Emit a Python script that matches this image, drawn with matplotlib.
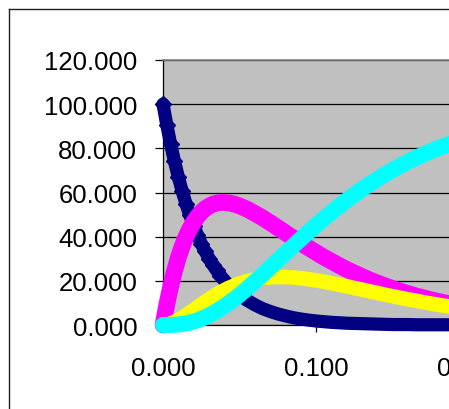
import matplotlib
matplotlib.use("Agg")
import matplotlib.pyplot as plt
from matplotlib.lines import Line2D

# time values (x)
t = [0.0, 0.0025, 0.005, 0.0075, 0.01, 0.0125, 0.015, 0.0175, 0.02, 0.0225,
     0.025, 0.0275, 0.03, 0.0325, 0.035, 0.0375, 0.04, 0.0425, 0.045, 0.0475,
     0.05, 0.055, 0.06, 0.065, 0.07, 0.075, 0.08, 0.085, 0.09, 0.095,
     0.1, 0.105, 0.11, 0.115, 0.12, 0.125, 0.13, 0.135, 0.14, 0.145,
     0.15, 0.155, 0.16, 0.165, 0.17, 0.175, 0.18, 0.185, 0.19, 0.195, 0.2]

series_a = [100.0, 90.5, 81.9, 74.1, 67.0, 60.7, 54.9, 49.7, 44.9, 40.7,
            36.8, 33.3, 30.1, 27.3, 24.7, 22.3, 20.2, 18.3, 16.5, 15.0,
            13.5, 11.1, 9.1, 7.4, 6.1, 5.0, 4.1, 3.3, 2.7, 2.2,
            1.8, 1.5, 1.2, 1.0, 0.8, 0.7, 0.6, 0.5, 0.4, 0.3,
            0.2, 0.2, 0.2, 0.1, 0.1, 0.1, 0.1, 0.1, 0.05, 0.04, 0.03]

series_b = [0.0, 9.3, 17.4, 24.4, 30.5, 35.6, 40.0, 43.6, 46.6, 49.1,
            51.1, 52.7, 53.8, 54.7, 55.2, 55.5, 55.5, 55.3, 55.0, 54.5,
            53.9, 52.4, 50.5, 48.5, 46.3, 44.0, 41.7, 39.4, 37.1, 34.9,
            32.8, 30.7, 28.8, 26.9, 25.1, 23.5, 21.9, 20.4, 19.0, 17.7,
            16.5, 15.3, 14.2, 13.2, 12.3, 11.4, 10.6, 9.9, 9.2, 8.5, 7.9]

series_c = [0.0, 0.2, 0.7, 1.4, 2.3, 3.3, 4.4, 5.6, 6.8, 8.1,
            9.3, 10.5, 11.7, 12.8, 13.9, 14.9, 15.8, 16.7, 17.4, 18.2,
            18.8, 19.9, 20.7, 21.3, 21.6, 21.7, 21.7, 21.5, 21.2, 20.7,
            20.2, 19.6, 18.9, 18.2, 17.5, 16.7, 16.0, 15.2, 14.5, 13.7,
            13.0, 12.3, 11.6, 11.0, 10.3, 9.7, 9.1, 8.6, 8.0, 7.5, 7.1]

series_d = [0.0, 0.0, 0.0, 0.1, 0.2, 0.5, 0.7, 1.1, 1.6, 2.1,
            2.8, 3.5, 4.4, 5.3, 6.3, 7.4, 8.5, 9.7, 11.0, 12.3,
            13.7, 16.6, 19.7, 22.8, 26.1, 29.3, 32.6, 35.8, 39.0, 42.1,
            45.2, 48.2, 51.1, 53.9, 56.6, 59.1, 61.6, 63.9, 66.1, 68.3,
            70.3, 72.2, 74.0, 75.7, 77.3, 78.8, 80.2, 81.5, 82.7, 83.9, 85.0]

y_ticks = [0, 20, 40, 60, 80, 100, 120]
x_ticks = [0.0, 0.1, 0.2]

FONT = "Liberation Sans"

fig = plt.figure(figsize=(4.49, 4.10), dpi=100)
W, H = 449.0, 410.0

# outer chart frame (extends past the image on the right and bottom)
fig.add_artist(Line2D([9 / W, 1.0], [1 - 10 / H, 1 - 10 / H], transform=fig.transFigure,
                      color="#202020", lw=1.0))
fig.add_artist(Line2D([9 / W, 9 / W], [0.0, 1 - 10 / H], transform=fig.transFigure,
                      color="#202020", lw=1.0))

x0, x1 = 163.0, 469.6
y0, y1 = 326.0, 61.0
ax = fig.add_axes([x0 / W, 1 - y0 / H, (x1 - x0) / W, (y0 - y1) / H])
ax.set_facecolor("#C0C0C0")
ax.set_xlim(0, 0.2)
ax.set_ylim(0, 120)

ax.set_axisbelow(True)
ax.yaxis.grid(True, color="black", lw=0.9)
ax.xaxis.grid(False)

ax.set_yticks(y_ticks)
ax.set_yticklabels([f"{v:.3f}" for v in y_ticks])
ax.set_xticks(x_ticks)
ax.set_xticklabels([f"{v:.3f}" for v in x_ticks])

ax.tick_params(axis="y", direction="out", length=6, width=0.9, pad=12.5,
               labelsize=18.5, colors="black")
ax.tick_params(axis="x", direction="out", length=5, width=0.9, pad=17,
               labelsize=18.5, colors="black")
for lab in ax.get_xticklabels() + ax.get_yticklabels():
    lab.set_fontfamily(FONT)

ax.spines["left"].set_color("black")
ax.spines["left"].set_linewidth(0.9)
ax.spines["bottom"].set_color("black")
ax.spines["bottom"].set_linewidth(0.9)
ax.spines["top"].set_color("#808080")
ax.spines["top"].set_linewidth(1.2)
ax.spines["right"].set_visible(False)

ax.plot(t, series_a, color="#000080", lw=9.5, marker="D", ms=8.5,
        markevery=slice(0, 16),
        solid_joinstyle="round", solid_capstyle="round", clip_on=False, zorder=3)
ax.plot(t, series_b, color="#FF00FF", lw=12.0,
        solid_joinstyle="round", solid_capstyle="round", clip_on=False, zorder=4)
ax.plot(t, series_c, color="#FFFF00", lw=10.5,
        solid_joinstyle="round", solid_capstyle="round", clip_on=False, zorder=5)
ax.plot(t, series_d, color="#00FFFF", lw=11.5,
        solid_joinstyle="round", solid_capstyle="round", clip_on=False, zorder=6)

fig.savefig("out.png", dpi=100)
